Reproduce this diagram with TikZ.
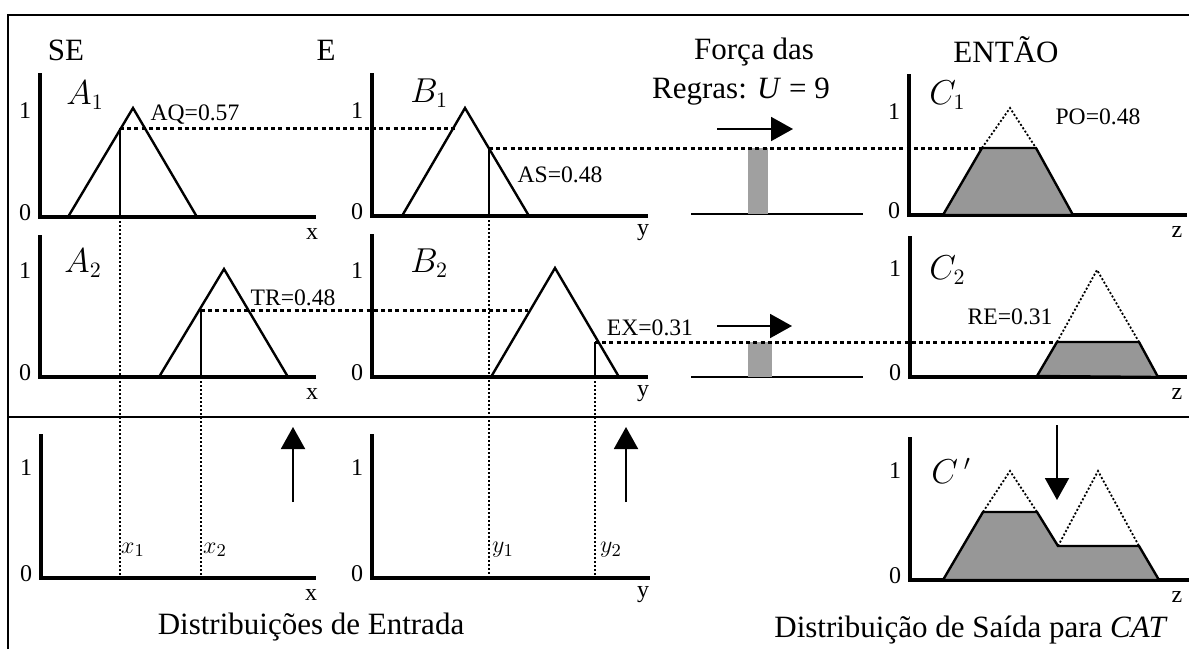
\documentclass[tikz,border=0pt]{standalone}
\usepackage{fontspec}
\setmainfont{Liberation Serif}
\usepackage{tikz}
\usetikzlibrary{arrows.meta}
\definecolor{areagray}{HTML}{979797}
\definecolor{bargray}{HTML}{A0A0A0}
\tikzset{
  head/.style={font=\fontsize{15.5}{18}\selectfont},
  val/.style={font=\fontsize{11.8}{14}\selectfont},
  tick/.style={font=\fontsize{12}{14}\selectfont},
  input/.style={font=\fontsize{12.5}{14}\selectfont},
  setname/.style={font=\fontsize{16}{18}\selectfont, anchor=west, inner sep=0pt},
  frame/.style={line width=1.4pt},
  axis/.style={line width=1.6pt},
  memb/.style={line width=1.2pt, line join=miter},
  level/.style={line width=1.5pt, dash pattern=on 2pt off 1.6pt},
  drop/.style={line width=0.75pt, dash pattern=on 1pt off 1pt},
  ghost/.style={line width=0.9pt, dash pattern=on 1pt off 1pt},
  rulearrow/.style={line width=1pt, -{Triangle[length=11pt,width=12pt]}},
  area/.style={fill=areagray, draw=black, line width=1.2pt, line join=miter},
  bar/.style={fill=bargray},
}

\begin{document}
\begin{tikzpicture}[x=0.5pt,y=-0.5pt]
  \useasboundingbox (0,0) rectangle (1189,649);

  % frame and separator
  \draw[frame] (8,649) -- (8,15) -- (1189,15);
  \draw[frame] (8,417) -- (1189,417);

  % column headings
  \node[head] (se) at (66,50) {SE};
  \node[head] (e) at (326,50) {E};
  \node[head] (forca) at (754,52) {Força das};
  \node[head] (regras) at (741,92) {Regras: \textit{U} = 9};
  \node[head] (entao) at (1006,50) {ENTÃO};

  % axes of every panel
  \foreach \xo/\yb/\yt/\xe/\yo/\xl/\ax [count=\k] in {
      40/217/73/316/111/312/x, 372/216/73/648/111/643/y, 909/215/74/1187/112/1177/z,
      40/377/235/316/271/312/x, 372/377/234/648/271/643/y, 910/377/236/1187/269/1177/z,
      41/578/434/316/468/311/x, 372/578/434/650/468/643/y, 910/580/437/1189/471/1177/z} {
    \draw[axis] (\xo,\yt) -- (\xo,\yb) -- (\xe,\yb);
    \node[tick] (one\k) at (\xo-15,\yo) {1};
    \node[tick] (zero\k) at (\xo-15,\yb-4) {0};
    \node[tick] (ax\k) at (\xl,\yb+17) {\ax};
  }

  % SE: A1 and A2
  \node[setname] (A1) at (66,95) {$A_1$};
  \draw[memb] (68,217) -- (133,108) -- (197,217);
  \draw[memb] (120,217) -- (120,128);
  \node[val] (aq) at (195,115) {AQ=0.57};
  \node[setname] (A2) at (64,263) {$A_2$};
  \draw[memb] (159,377) -- (224,269) -- (288,377);
  \draw[memb] (201,377) -- (201,310);
  \node[val] (tr) at (293,298) {TR=0.48};

  % E: B1 and B2
  \node[setname] (B1) at (410,93) {$B_1$};
  \draw[memb] (402,216) -- (465,108) -- (529,216);
  \draw[memb] (489,216) -- (489,148);
  \node[val] (as) at (560,175) {AS=0.48};
  \node[setname] (B2) at (410,263) {$B_2$};
  \draw[memb] (491,377) -- (555,268) -- (619,377);
  \draw[memb] (595,377) -- (595,342);
  \node[val] (ex) at (650,328) {EX=0.31};

  % rule strength bars
  \draw[line width=0.8pt] (691,214) -- (863,214);
  \fill[bar] (748,148) rectangle (768,214);
  \draw[rulearrow] (717,129) -- (793,129);
  \draw[line width=0.8pt] (691,377) -- (863,377);
  \fill[bar] (748,342) rectangle (772,377);
  \draw[rulearrow] (717,326) -- (792,326);

  % ENTAO: C1 and C2
  \node[setname] (C1) at (929,95) {$C_1$};
  \draw[area] (943,215) -- (982,148) -- (1036,148) -- (1073,215) -- cycle;
  \draw[ghost] (982,148) -- (1010,108) -- (1036,148);
  \node[val] (po) at (1098,117) {PO=0.48};
  \node[setname] (C2) at (929,270) {$C_2$};
  \draw[area] (1037,376) -- (1057,342) -- (1139,342) -- (1158,377) -- cycle;
  \draw[ghost] (1057,342) -- (1097,270) -- (1139,342);
  \node[val] (re) at (1010,317) {RE=0.31};

  % firing levels carried across
  \draw[level] (120,128) -- (455,128);
  \draw[level] (489,148) -- (982,148);
  \draw[level] (201,310) -- (528,310);
  \draw[level] (595,342) -- (1057,342);

  % crisp inputs
  \draw[drop] (120,217) -- (120,578);
  \draw[drop] (201,377) -- (201,578);
  \draw[drop] (489,216) -- (489,578);
  \draw[drop] (595,377) -- (595,578);
  \node[input] (x1) at (133,550) {$x_1$};
  \node[input] (x2) at (215,550) {$x_2$};
  \node[input] (y1) at (503,550) {$y_1$};
  \node[input] (y2) at (611,550) {$y_2$};
  \draw[rulearrow] (293,502) -- (293,427);
  \draw[rulearrow] (626,502) -- (626,427);

  % aggregated output
  \node[setname] (Cp) at (931,471) {$C\,'$};
  \draw[area] (943,580) -- (983,512) -- (1037,512) -- (1058,546)
    -- (1139,546) -- (1159,580) -- cycle;
  \draw[ghost] (983,512) -- (1010,471) -- (1037,512);
  \draw[ghost] (1058,546) -- (1098,471) -- (1139,546);
  \draw[rulearrow] (1057,425) -- (1057,500);

  \node[head] (entrada) at (311,627) {Distribuições de Entrada};
  \node[head] (saida) at (971,630) {Distribuição de Saída para \textit{CAT}};
\end{tikzpicture}
\end{document}
